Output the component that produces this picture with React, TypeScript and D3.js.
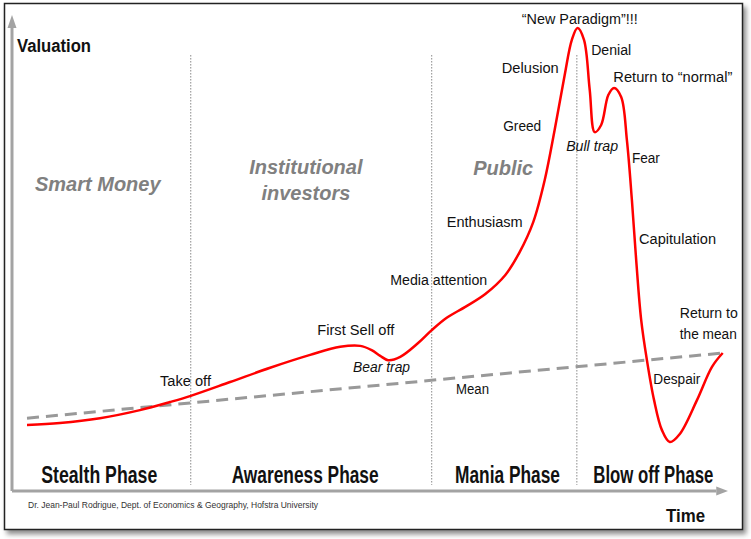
import React, { useLayoutEffect, useRef } from "react";
import * as d3 from "d3";

// curve: time (0-100) vs valuation (0-100)
const curveTime = [
  2.1, 6.7, 12.3, 17.9, 22.1, 25.0, 30.5, 36.1, 41.7, 45.9, 48.7, 50.3, 51.5,
  52.6, 54.3, 56.8, 58.7, 60.8, 63.4, 66.2, 69.0, 71.0, 72.9, 74.5, 75.9,
  77.3, 78.3, 79.1, 80.0, 80.8, 81.5, 82.4, 83.4, 84.2, 85.2, 86.0, 86.7,
  87.3, 88.0, 88.8, 89.8, 90.9, 92.0, 93.4, 95.8, 97.9, 99.4,
];
const curveValue = [
  14.1, 14.5, 15.5, 17.2, 18.9, 20.2, 23.1, 26.1, 28.8, 30.5, 30.7, 29.8,
  28.6, 27.7, 28.4, 31.3, 34.0, 36.6, 38.9, 41.6, 45.6, 50.4, 56.7, 65.5,
  76.1, 87.6, 95.0, 97.5, 95.0, 84.5, 75.6, 77.1, 83.4, 84.9, 83.0, 73.9,
  61.3, 48.7, 36.1, 27.7, 19.3, 13.0, 10.5, 12.2, 19.3, 26.3, 29.2,
];

// long-run mean (start and end)
const meanTime = [2.1, 99.4];
const meanValue = [15.5, 29.2];

// phase boundaries and names
const phaseBreaks = [25.0, 58.7, 79.0];
const phaseNames = ["Stealth Phase", "Awareness Phase", "Mania Phase", "Blow off Phase"];
const phaseCenters = [12.2, 41.0, 69.3, 89.7];

// who is buying in each phase
const crowdNames = ["Smart Money", "Institutional\ninvestors", "Public"];
const crowdCenters = [12.0, 41.1, 68.7];
const crowdValue = [63.2, 66.8, 66.6];

// sentiment notes along the curve (anchor: start of the text, baseline)
const noteText = [
  "\u201CNew Paradigm\u201D!!!", "Denial", "Delusion", "Return to \u201Cnormal\u201D",
  "Greed", "Fear", "Enthusiasm", "Capitulation", "Media attention", "Return to",
  "the mean", "First Sell off", "Take off", "Despair", "Mean",
];
const noteTime = [71.3, 81.0, 68.5, 84.1, 68.7, 86.7, 60.8, 87.7, 52.9, 93.4, 93.4, 42.7, 20.7, 89.7, 62.1];
const noteValue = [98.3, 91.8, 88.0, 86.1, 75.8, 69.1, 55.7, 52.1, 43.5, 36.6, 32.1, 33.0, 22.3, 22.7, 20.6];

const trapText = ["Bull trap", "Bear trap"];
const trapTime = [77.5, 47.7];
const trapValue = [71.6, 25.2];

const W = 751;
const H = 539;

const noteWidth: Record<string, number> = {
  "\u201CNew Paradigm\u201D!!!": 116, Denial: 40, Delusion: 57, "Return to \u201Cnormal\u201D": 119,
  Greed: 38, Fear: 28, Enthusiasm: 76, Capitulation: 77, "Media attention": 97,
  "Return to": 58, "the mean": 57, "First Sell off": 77, "Take off": 51, Despair: 47,
  Mean: 33, "Bull trap": 52, "Bear trap": 57,
};
const phaseWidth = [116, 147, 105, 120];

export default function App() {
  const phaseRef = useRef<SVGGElement>(null);

  const x = d3.scaleLinear().domain([0, 100]).range([12, 727]);
  const y = d3.scaleLinear().domain([0, 100]).range([492, 16]);

  // squeeze the bold phase titles to the condensed width of the original
  useLayoutEffect(() => {
    if (!phaseRef.current) return;
    d3.select(phaseRef.current)
      .selectAll<SVGTextElement, unknown>("text")
      .each(function (_, i) {
        const natural = this.getComputedTextLength();
        const sx = phaseWidth[i] / natural;
        d3.select(this).attr("transform", `translate(${x(phaseCenters[i])},483) scale(${sx},1)`);
      });
  }, []);

  const pts = curveTime.map((t, i) => [t, curveValue[i]] as [number, number]);
  const line = d3
    .line<[number, number]>()
    .x((d) => x(d[0]))
    .y((d) => y(d[1]))
    .curve(d3.curveCatmullRom.alpha(0.5));

  const font = "'Liberation Sans', Arial, sans-serif";
  const axisCol = "#a3a3a3";
  const x0 = x(0), y0 = y(0) - 1;

  return (
    <svg
      width={W}
      height={H}
      style={{ position: "absolute", left: 0, top: 0, background: "#fff" }}
      fontFamily={font}
    >
      <defs>
        <filter id="shadow" x="-5%" y="-5%" width="110%" height="110%">
          <feDropShadow dx="3" dy="4" stdDeviation="2.5" floodColor="#000" floodOpacity="0.45" />
        </filter>
      </defs>
      <rect x={4.5} y={3.5} width={738} height={526} fill="#fff" stroke="#222" strokeWidth={1.5} filter="url(#shadow)" />

      {/* phase separators */}
      {phaseBreaks.map((t) => (
        <line key={t} x1={x(t)} x2={x(t)} y1={y(91.8)} y2={y(1.5)} stroke="#888" strokeWidth={1} strokeDasharray="1.5 1.5" />
      ))}

      {/* axes */}
      <line x1={x0} x2={x0} y1={y0} y2={y(97.5)} stroke={axisCol} strokeWidth={3} />
      <polygon points={`${x0},${y(100) - 1} ${x0 - 4.5},${y(97.5)} ${x0 + 4.5},${y(97.5)}`} fill={axisCol} />
      <line x1={x0} x2={x(98.5)} y1={y0} y2={y0} stroke={axisCol} strokeWidth={3} />
      <polygon points={`${x(100) + 1},${y0} ${x(98.5)},${y0 - 4.5} ${x(98.5)},${y0 + 4.5}`} fill={axisCol} />

      {/* mean trend */}
      <line
        x1={x(meanTime[0])} y1={y(meanValue[0])}
        x2={x(meanTime[1])} y2={y(meanValue[1])}
        stroke="#999" strokeWidth={3} strokeDasharray="12 7"
      />

      {/* bubble curve */}
      <path d={line(pts) ?? ""} fill="none" stroke="#ff0000" strokeWidth={2.5} strokeLinejoin="round" />

      {/* axis titles */}
      <text x={17} y={52} fontSize={18} fontWeight="bold" fill="#111" textLength={74} lengthAdjust="spacingAndGlyphs">Valuation</text>
      <text x={666} y={522} fontSize={18} fontWeight="bold" fill="#111" textLength={39} lengthAdjust="spacingAndGlyphs">Time</text>

      {/* phases */}
      <g ref={phaseRef}>
        {phaseNames.map((p, i) => (
          <text
            key={p}
            transform={`translate(${x(phaseCenters[i])},483) scale(0.72,1)`}
            fontSize={24}
            fontWeight="bold"
            fill="#111"
            textAnchor="middle"
          >
            {p}
          </text>
        ))}
      </g>

      {/* crowds */}
      {crowdNames.map((c, i) => (
        <text key={c} x={x(crowdCenters[i])} y={y(crowdValue[i])} fontSize={20} fontWeight="bold" fontStyle="italic" fill="#808080" textAnchor="middle">
          {c.split("\n").map((s, j) => (
            <tspan key={s} x={x(crowdCenters[i])} dy={j === 0 ? 0 : 26}>{s}</tspan>
          ))}
        </text>
      ))}

      {/* notes */}
      {noteText.map((n, i) => (
        <text key={n} x={x(noteTime[i])} y={y(noteValue[i])} fontSize={14} fill="#111" textLength={noteWidth[n]} lengthAdjust="spacingAndGlyphs">
          {n}
        </text>
      ))}
      {trapText.map((n, i) => (
        <text key={n} x={x(trapTime[i])} y={y(trapValue[i])} fontSize={14} fontStyle="italic" fill="#111" textLength={noteWidth[n]} lengthAdjust="spacingAndGlyphs">
          {n}
        </text>
      ))}

      <text x={28} y={508} fontSize={9} fill="#333" textLength={290} lengthAdjust="spacingAndGlyphs">
        Dr. Jean-Paul Rodrigue, Dept. of Economics &amp; Geography, Hofstra University
      </text>
    </svg>
  );
}
